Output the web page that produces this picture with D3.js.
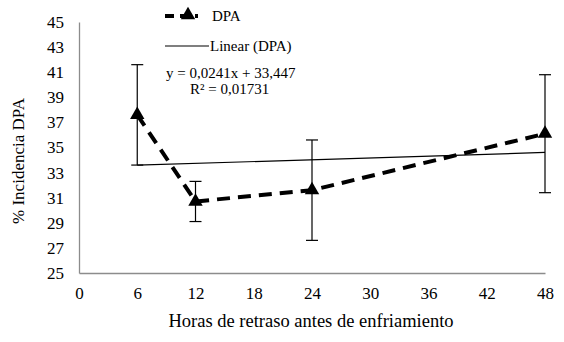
<!DOCTYPE html>
<html><head><meta charset="utf-8">
<script src="https://cdn.jsdelivr.net/npm/d3@7"></script>
<style>body{margin:0;background:#fff}svg{display:block}</style>
</head><body><svg id="c" width="564" height="342"></svg>
<script>
const hours = [6, 12, 24, 48];
const dpa = [37.6, 30.7, 31.6, 36.1];
const errs = [4.0, 1.6, 4.0, 4.7];
const xTicks = [0, 6, 12, 18, 24, 30, 36, 42, 48];
const yTicks = [25, 27, 29, 31, 33, 35, 37, 39, 41, 43, 45];
const slope = 0.0241, intercept = 33.447;

const FONT = "'Liberation Serif', 'Times New Roman', Times, 'DejaVu Serif', serif";
const svg = d3.select("#c").style("font-family", FONT);
const x = d3.scaleLinear().domain([0, 48]).range([79, 545]);
const y = d3.scaleLinear().domain([25, 45]).range([273, 22]);

// axes
const ya = svg.append("g").attr("transform", "translate(79,0)")
  .call(d3.axisLeft(y).tickValues(yTicks).tickSize(0).tickPadding(15));
const xa = svg.append("g").attr("transform", "translate(0,273)")
  .call(d3.axisBottom(x).tickValues(xTicks).tickSize(0).tickPadding(14));
[ya, xa].forEach(g => {
  g.attr("font-family", FONT).attr("font-size", 17);
  g.select(".domain").attr("stroke", "#8c8c8c").attr("stroke-width", 1.3);
  g.selectAll("text").attr("font-size", 17).attr("font-family", FONT).attr("fill", "#000");
});

// trendline
svg.append("line")
  .attr("x1", x(6)).attr("x2", x(48))
  .attr("y1", y(intercept + slope * 6)).attr("y2", y(intercept + slope * 48))
  .attr("stroke", "#000").attr("stroke-width", 1.2);

// error bars
const eb = svg.append("g");
hours.forEach((h, i) => {
  const cx = x(h), lo = y(dpa[i] - errs[i]), hi = y(dpa[i] + errs[i]);
  eb.append("line").attr("x1", cx).attr("x2", cx).attr("y1", lo).attr("y2", hi).attr("stroke", "#000").attr("stroke-width", 1.2);
  [lo, hi].forEach(v => eb.append("line").attr("x1", cx - 6).attr("x2", cx + 6).attr("y1", v).attr("y2", v).attr("stroke", "#000").attr("stroke-width", 1.2));
});

// dashed series
const line = d3.line().x((d, i) => x(hours[i])).y(d => y(d));
svg.append("path").datum(dpa).attr("d", line).attr("fill", "none")
  .attr("stroke", "#000").attr("stroke-width", 4).attr("stroke-dasharray", "13,8");

const tri = d3.symbol().type(d3.symbolTriangle).size(90);
svg.selectAll(".m").data(dpa).join("path")
  .attr("transform", (d, i) => `translate(${x(hours[i])},${y(d)})`)
  .attr("d", tri).attr("fill", "#000");

// legend
const lg = svg.append("g").attr("font-family", FONT).attr("font-size", 15);
lg.append("line").attr("x1", 165).attr("x2", 198).attr("y1", 16).attr("y2", 16)
  .attr("stroke", "#000").attr("stroke-width", 4).attr("stroke-dasharray", "9,6");
lg.append("path").attr("transform", "translate(188,15)").attr("d", tri).attr("fill", "#000");
lg.append("text").attr("x", 212).attr("y", 21).text("DPA");
lg.append("line").attr("x1", 165).attr("x2", 209).attr("y1", 46).attr("y2", 46)
  .attr("stroke", "#000").attr("stroke-width", 1.2);
lg.append("text").attr("x", 210).attr("y", 51).text("Linear (DPA)");
lg.append("text").attr("x", 166).attr("y", 78).text("y = 0,0241x + 33,447");
lg.append("text").attr("x", 190).attr("y", 94).text("R² = 0,01731");

// axis titles
svg.append("text").attr("x", 311).attr("y", 327).attr("text-anchor", "middle").attr("font-size", 18.5)
  .attr("font-family", FONT).text("Horas de retraso antes de enfriamiento");
svg.append("text").attr("transform", "translate(24,161) rotate(-90)").attr("text-anchor", "middle").attr("font-size", 17)
  .attr("font-family", FONT).text("% Incidencia DPA");
</script></body></html>
